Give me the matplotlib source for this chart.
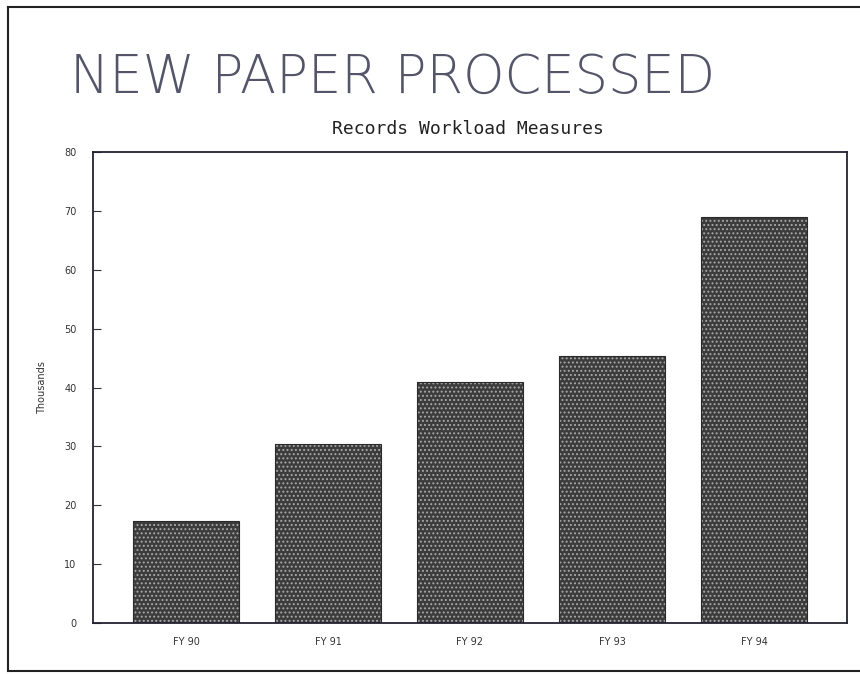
import matplotlib
matplotlib.use("Agg")
from matplotlib import pyplot as plt
from matplotlib.lines import Line2D

years = ["FY 90", "FY 91", "FY 92", "FY 93", "FY 94"]
values = [17.4, 30.4, 40.9, 45.4, 69.0]
yticks = [0, 10, 20, 30, 40, 50, 60, 70, 80]

plt.rcParams["hatch.linewidth"] = 0.9

fig = plt.figure(figsize=(8.6, 6.74), dpi=100)
ax = fig.add_axes([93 / 860, 1 - 623 / 674, 754 / 860, 471 / 674])

x = list(range(len(years)))
ax.bar(x, values, width=0.75, color="#3c3c3c", edgecolor="#a8a8a8", hatch="....", linewidth=0)
ax.bar(x, values, width=0.75, fill=False, edgecolor="#2a2a2a", linewidth=0.8)

ax.set_xlim(-0.655, 4.655)
ax.set_ylim(0, 80)
ax.set_yticks(yticks)
ax.set_yticklabels([str(v) for v in yticks], fontsize=7, color="#333333")
ax.set_xticks(x)
ax.set_xticklabels(years, fontsize=7, color="#333333")
ax.tick_params(axis="x", length=0, pad=10)
ax.tick_params(axis="y", direction="in", length=6, pad=12, color="#333333")
for s in ax.spines.values():
    s.set_linewidth(1.3)
    s.set_color("#222233")

ax.set_ylabel("Thousands", fontsize=7, labelpad=12, color="#333333")

fig.text(70 / 860, 1 - 78 / 674, "NEW PAPER PROCESSED", fontsize=38, fontweight="light",
         family="DejaVu Sans", color="#55556a", va="center", ha="left")
fig.text(468 / 860, 1 - 129 / 674, "Records Workload Measures", fontsize=13,
         family="DejaVu Sans Mono", color="#222222", va="center", ha="center")

# page frame: left, top, bottom edges
for xs, ys in [([8, 8], [7, 671]), ([8, 860], [7, 7]), ([8, 860], [671, 671])]:
    fig.lines.append(Line2D([v / 860 for v in xs], [1 - v / 674 for v in ys],
                            transform=fig.transFigure, color="#222222", linewidth=1.5))

fig.savefig("out.png", dpi=100)
